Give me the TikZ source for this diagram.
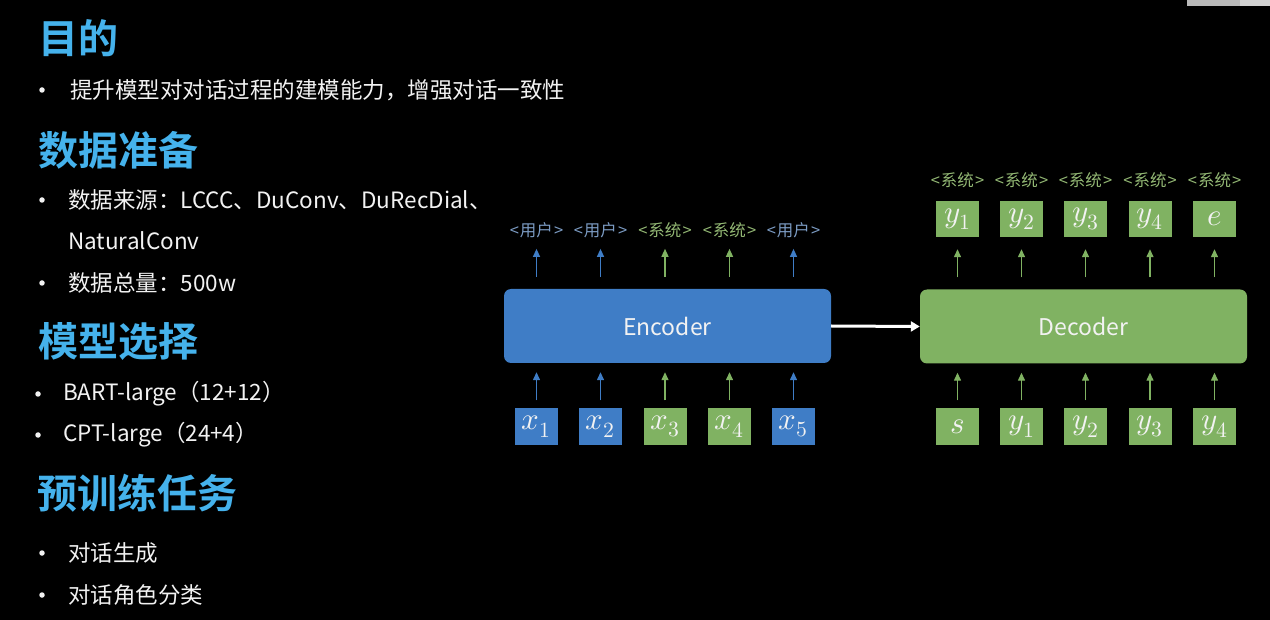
\documentclass[tikz,border=0pt]{standalone}
\usepackage{fontspec}
\usepackage{unicode-math}
\setmainfont{Noto Sans CJK SC}[BoldFont={Noto Sans CJK SC Bold}]
\setmathfont{Latin Modern Math}
\usetikzlibrary{arrows.meta}
\definecolor{headc}{HTML}{45B2EC}
\definecolor{bluef}{HTML}{3F7DC6}
\definecolor{greenf}{HTML}{80B262}
\definecolor{bluel}{HTML}{7C9CC4}
\definecolor{greenl}{HTML}{93B874}
\definecolor{txt}{HTML}{F2F2F2}
\begin{document}
\begin{tikzpicture}[x=1pt,y=-1pt,
  head/.style={anchor=west,inner sep=0pt,text=headc,font=\fontsize{40}{42}\selectfont\bfseries},
  body/.style={anchor=west,inner sep=0pt,text=txt,font=\fontsize{22.5}{25}\selectfont},
  bul/.style={circle,inner sep=0pt,minimum size=5.5pt,fill=txt},
  big/.style={rounded corners=7pt,minimum width=327pt,minimum height=74pt,inner sep=0pt,text=txt,font=\fontsize{23}{26}\selectfont},
  tok/.style={minimum width=43pt,minimum height=36pt,inner sep=0pt,text=txt,font=\fontsize{31}{34}\selectfont},
  lab/.style={inner sep=0pt,minimum height=15pt,font=\fontsize{16.5}{18}\selectfont},
  arr/.style={line width=1.3pt,-{Triangle[width=7pt,length=8pt]}}
]
\useasboundingbox (0,0) rectangle (1270,620);
\fill[black] (0,0) rectangle (1270,620);
% top-right screen artifact
\fill[gray!55] (1187,0) rectangle (1270,6);
\fill[gray!35] (1240,0) rectangle (1270,6);

% left text
\node[head] (h1) at (38,38) {目的};
\node[bul] (b1) at (42,90) {};
\node[body] (t1) at (70,90) {提升模型对对话过程的建模能力，增强对话一致性};

\node[head] (h2) at (38,150) {数据准备};
\node[bul] (b2) at (42,200) {};
\node[body] (t2) at (68,200) {数据来源：LCCC、DuConv、DuRecDial、};
\node[body] (t2b) at (68,241) {NaturalConv};
\node[bul] (b3) at (42,283) {};
\node[body] (t3) at (68,283) {数据总量：500w};

\node[head] (h3) at (38,342) {模型选择};
\node[bul] (b4) at (38,394) {};
\node[body] (t4) at (63,394) {BART-large（12+12）};
\node[bul] (b5) at (38,435) {};
\node[body] (t5) at (63,435) {CPT-large（24+4）};

\node[head] (h4) at (37,493) {预训练任务};
\node[bul] (b6) at (42,553) {};
\node[body] (t6) at (68,553) {对话生成};
\node[bul] (b7) at (42,595) {};
\node[body] (t7) at (68,595) {对话角色分类};

% encoder / decoder
\node[big,fill=bluef] (enc) at (667.5,326) {Encoder};
\node[big,fill=greenf] (dec) at (1083.5,326.5) {Decoder};
\draw[white,line width=3pt,-{Triangle[width=10pt,length=9pt]}] (enc.east) -- (dec.west);

% encoder inputs
\foreach \i/\x/\c in {1/536.5/bluef,2/600.5/bluef,3/665/greenf,4/729.5/greenf,5/793.5/bluef}{
  \node[tok,fill=\c] (ex\i) at (\x,426.5) {$x_{\i}$};
  \draw[arr,draw=\c,color=\c,shorten <=8pt,shorten >=9pt] (ex\i.north) -- (ex\i.north |- enc.south);
}
% encoder labels
\foreach \i/\x/\c/\t in {1/536.5/bluel/用户,2/600.5/bluel/用户,3/665/greenl/系统,4/729.5/greenl/系统,5/793.5/bluel/用户}{
  \node[lab,text=\c] (el\i) at (\x,230) {<\hspace{1pt}\t\hspace{1pt}>};
}
\foreach \i/\c in {1/bluef,2/bluef,3/greenf,4/greenf,5/bluef}{
  \draw[arr,draw=\c,color=\c,shorten <=12pt,shorten >=11pt] (el\i.south |- enc.north) -- (el\i.south);
}

% decoder outputs
\foreach \i/\x/\t in {1/957.5/y_1,2/1021.5/y_2,3/1085.5/y_3,4/1150/y_4,5/1214.5/e}{
  \node[tok,fill=greenf] (dy\i) at (\x,219) {$\t$};
  \node[lab,text=greenl] (dl\i) at (\x,180) {<\hspace{1pt}系统\hspace{1pt}>};
  \draw[arr,draw=greenf,color=greenf,shorten <=12pt,shorten >=12pt] (dy\i.south |- dec.north) -- (dy\i.south);
}
% decoder inputs
\foreach \i/\x/\t in {1/957.5/s,2/1021.5/y_1,3/1085.5/y_2,4/1150/y_3,5/1214.5/y_4}{
  \node[tok,fill=greenf] (ds\i) at (\x,426.5) {$\t$};
  \draw[arr,draw=greenf,color=greenf,shorten <=8pt,shorten >=9pt] (ds\i.north) -- (ds\i.north |- dec.south);
}
\end{tikzpicture}
\end{document}
